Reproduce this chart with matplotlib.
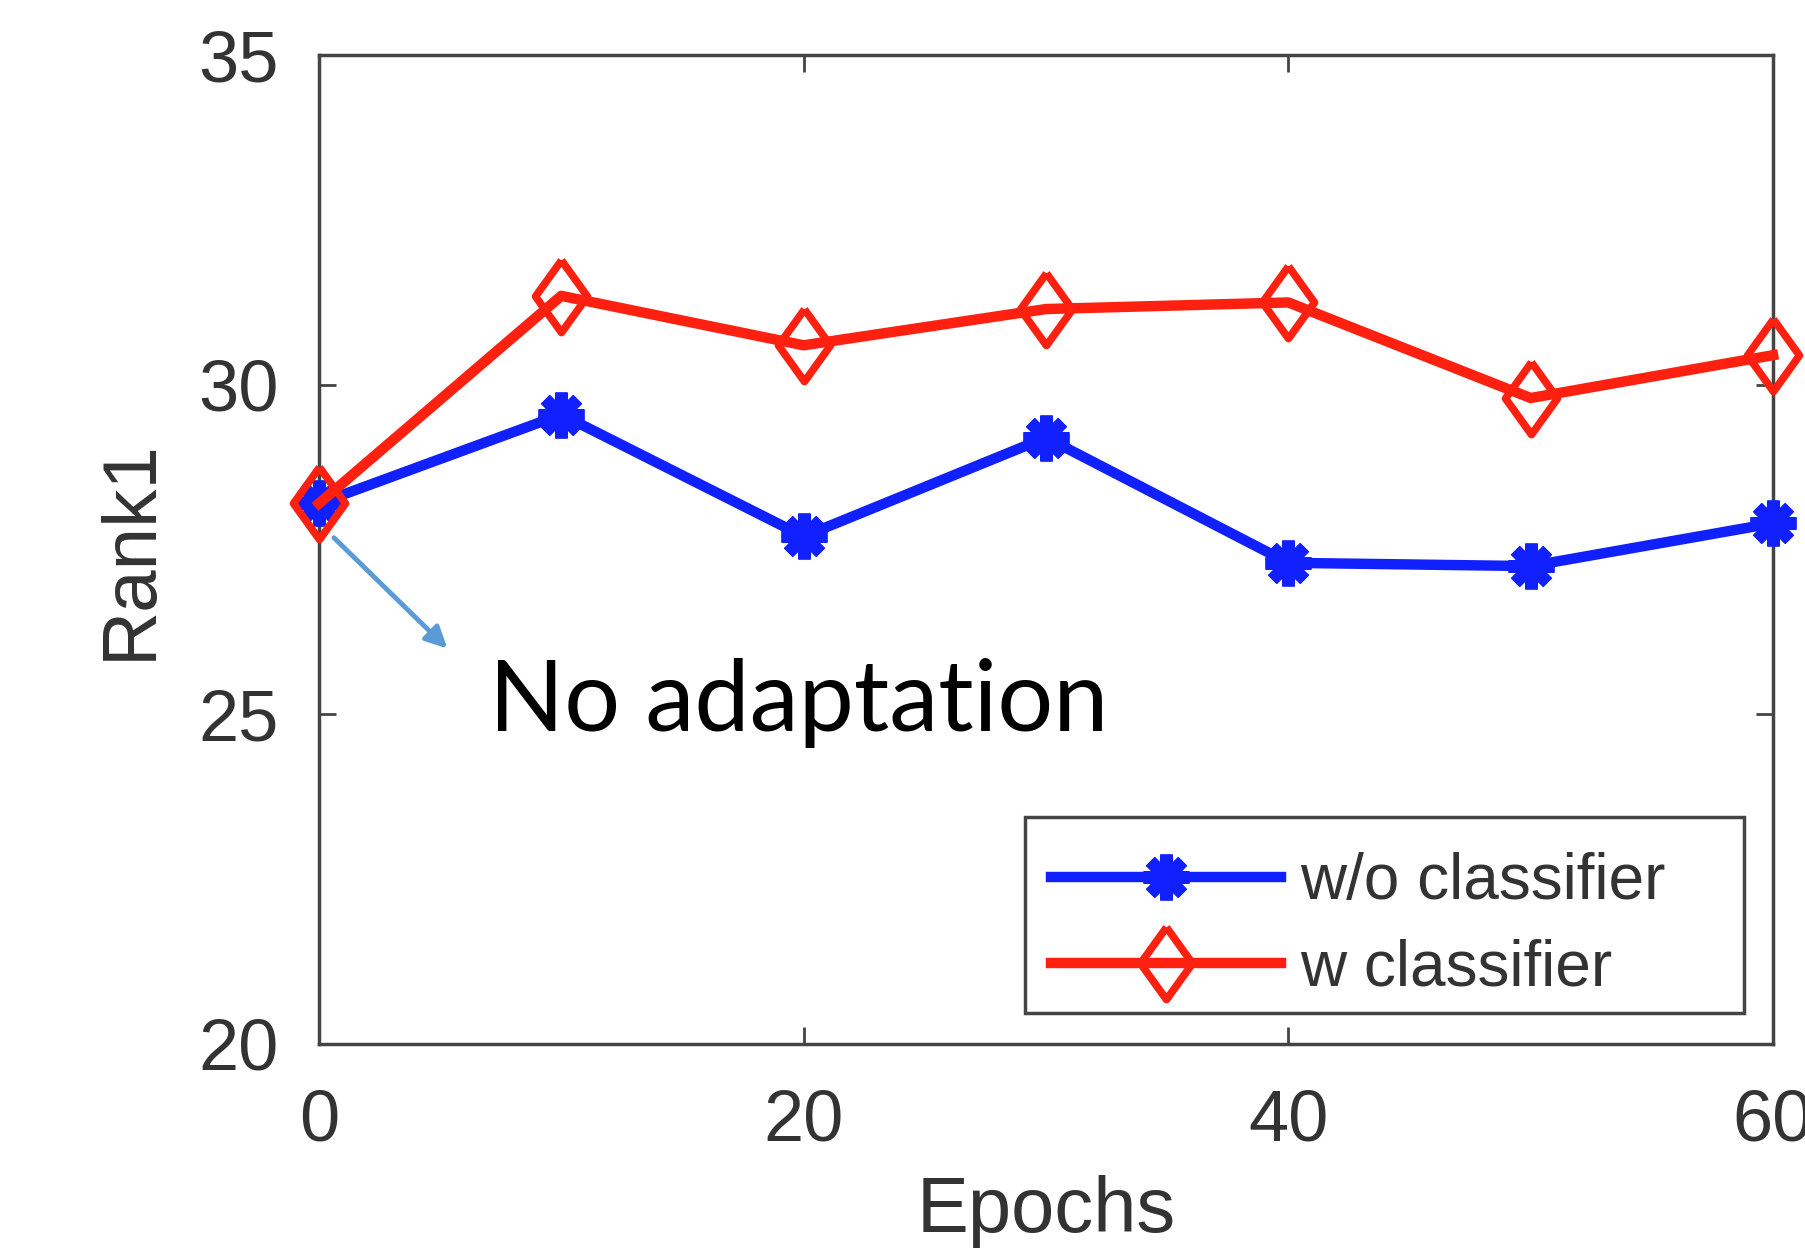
import matplotlib
matplotlib.use("Agg")
import matplotlib.pyplot as plt
from matplotlib.patches import Rectangle

# data
epochs = [0, 10, 20, 30, 40, 50, 60]
rank1_wo = [28.2, 29.55, 27.7, 29.2, 27.3, 27.25, 27.9]
rank1_w = [28.2, 31.35, 30.6, 31.15, 31.25, 29.8, 30.45]

xticks = [0, 20, 40, 60]
yticks = [20, 25, 30, 35]

plt.rcParams['font.family'] = ['Liberation Sans', 'DejaVu Sans']

fig = plt.figure(figsize=(18.05, 12.56), dpi=100)
ax = fig.add_axes([0.1767, 0.1688, 0.9823 - 0.1767, 0.956 - 0.1688])

# a wider diamond than 'd', like the MATLAB one
diamond = [(0, 1), (0.72, 0), (0, -1), (-0.72, 0), (0, 1)]

ax.plot(epochs, rank1_wo, color='#1020ff', lw=7.5, marker=(8, 2, 0), ms=33, mew=9,
        label='w/o classifier', clip_on=False, zorder=3)
ax.plot(epochs, rank1_w, color='#ff2010', lw=7.5, marker=diamond, ms=52, mew=5.5,
        mfc='none', label='w classifier', clip_on=False, zorder=4)

ax.set_xlim(0, 60)
ax.set_ylim(20, 35)
ax.set_xticks(xticks)
ax.set_yticks(yticks)
ax.tick_params(direction='in', length=12, width=2, top=True, right=True,
               labelsize=52, labelcolor='#333333', color='#444444')
ax.tick_params(axis='y', pad=29)
ax.tick_params(axis='x', pad=32)
for s in ax.spines.values():
    s.set_linewidth(2.5)
    s.set_color('#444444')

ax.set_xlabel('Epochs', fontsize=56, color='#333333', labelpad=14)
ax.set_ylabel('Rank1', fontsize=55, color='#333333')
ax.yaxis.set_label_coords(-0.1045, 0.5)

# MATLAB style legend box is wider than its content, so draw the box apart
ax.add_patch(Rectangle((0.4856, 0.0313), 0.4944, 0.1982, transform=ax.transAxes,
                       fill=True, fc='white', ec='#444444', lw=2.5, zorder=5))
leg = ax.legend(loc='center left', fontsize=46, handlelength=3.6,
                borderpad=0.4, labelspacing=0.42, handletextpad=0.3,
                borderaxespad=0, frameon=False, bbox_to_anchor=(0.4856, 0.120))
leg.set_zorder(6)
for t in leg.get_texts():
    t.set_color('#333333')

# annotation for the starting point
ax.annotate('', xy=(5.3, 26.0), xytext=(0.62, 27.68),
            arrowprops=dict(arrowstyle='-|>', color='#5b9bd5', lw=3.5,
                            mutation_scale=32, shrinkA=0, shrinkB=0))
ax.text(7.0, 24.75, 'No adaptation', fontsize=71, family=['Lato', 'DejaVu Sans'],
        color='black', va='baseline')

fig.savefig('out.png', dpi=100)
